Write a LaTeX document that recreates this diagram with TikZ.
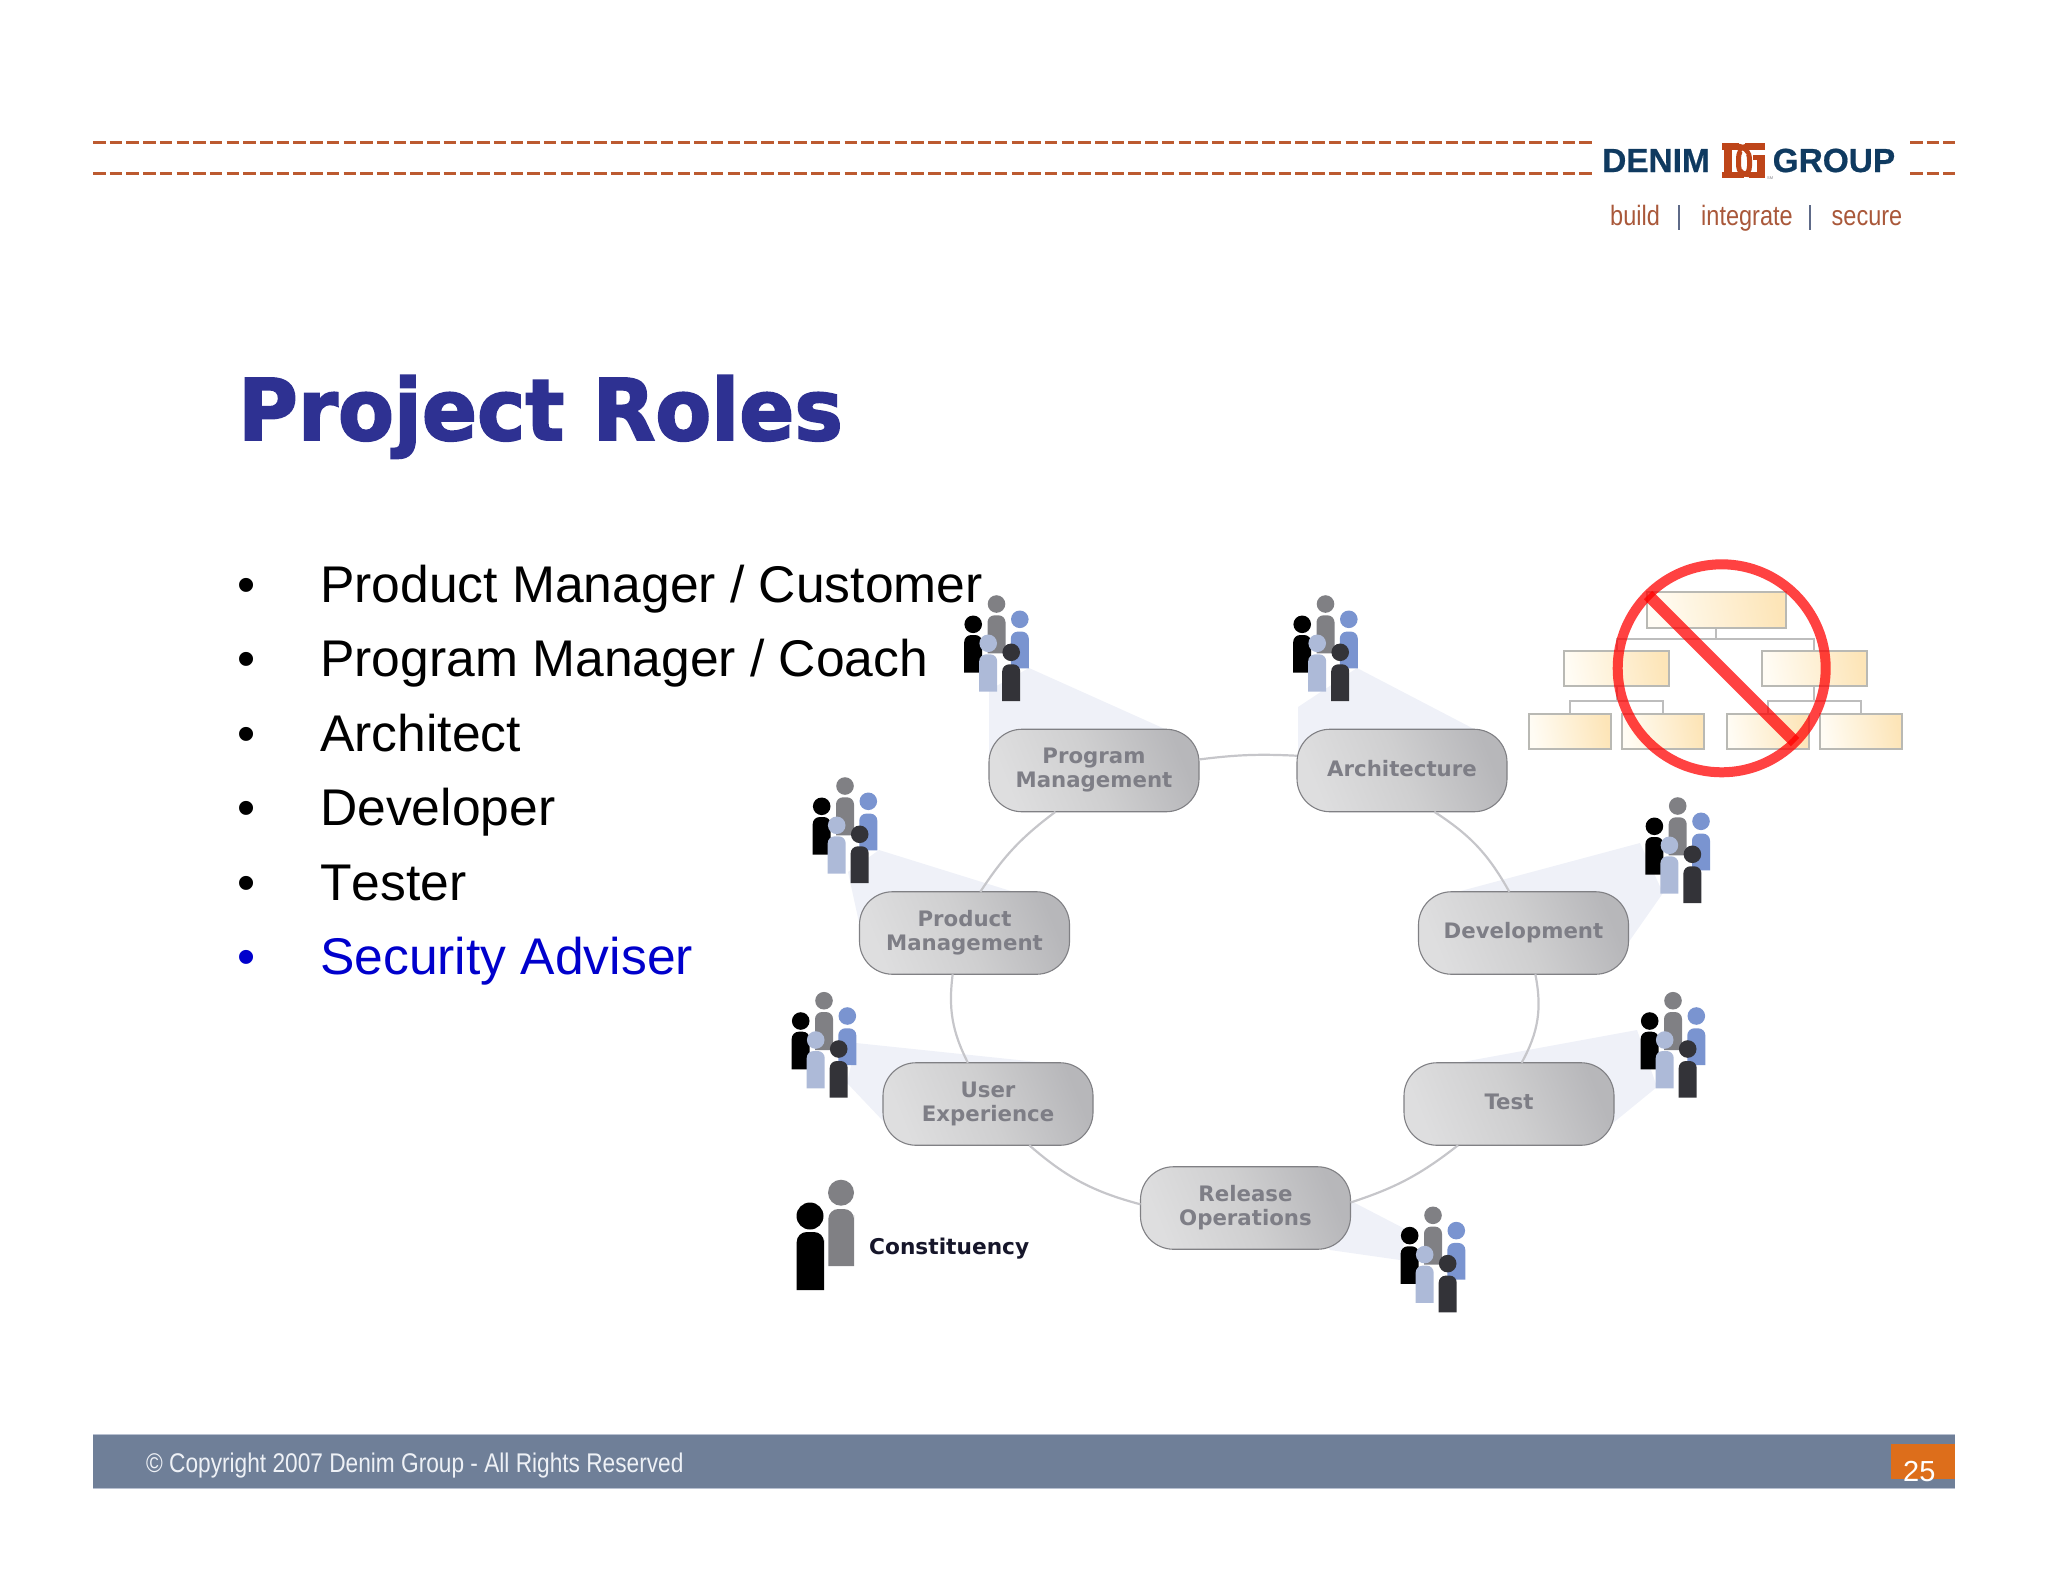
\documentclass[tikz,border=0pt]{standalone}
\usepackage{fontspec}
\usetikzlibrary{calc}
\setmainfont{Liberation Sans}
\newfontfamily\pillfont{DejaVu Sans}
\newfontfamily\bulletfont[Kerning=Off]{Liberation Sans}
\newfontfamily\titlefont[BoldFeatures={FakeBold=2.2,FakeStretch=0.958}]{DejaVu Sans}
\newfontfamily\narrowfont[FakeStretch=0.84]{Liberation Sans}
\newfontfamily\logofont[BoldFeatures={FakeBold=0.6}]{Liberation Sans}
\definecolor{navy}{HTML}{2E3192}
\definecolor{rust}{HTML}{BC5A30}
\definecolor{logoblue}{HTML}{0F3A60}
\definecolor{logored}{HTML}{BE4519}
\definecolor{tagcol}{HTML}{A9583A}
\definecolor{tagbar}{HTML}{5E6A88}
\definecolor{barcol}{HTML}{6F7F98}
\definecolor{baredge}{HTML}{B8C0D0}
\definecolor{orangecol}{HTML}{DD6E1B}
\definecolor{ringcol}{HTML}{C6C6CA}
\definecolor{pillline}{HTML}{808084}
\definecolor{pilltext}{HTML}{7E7E86}
\definecolor{pillA}{HTML}{DEDEDF}
\definecolor{pillB}{HTML}{CFCFD0}
\definecolor{pillC}{HTML}{B7B7BA}
\definecolor{coneA}{HTML}{EFF1F8}
\definecolor{orgedge}{HTML}{B9B9B4}
\definecolor{orgA}{HTML}{FFFCF4}
\definecolor{orgB}{HTML}{FDE5B8}
\definecolor{orgln}{HTML}{BDBDBD}
\definecolor{advblue}{HTML}{0000CC}
\definecolor{legendtx}{HTML}{16162A}
\definecolor{copytx}{HTML}{EEF1F6}
\definecolor{pA}{HTML}{808084}
\definecolor{pB}{HTML}{7A94D0}
\definecolor{pC}{HTML}{000000}
\definecolor{pD}{HTML}{ADBAD8}
\definecolor{pE}{HTML}{333338}
\newcommand{\personfig}[5]{%
  \fill[#5] (#1,#2) circle (8.8);
  \fill[#5,rounded corners=7] (#1-9,#4) -- (#1-9,#3) -- (#1+9,#3) -- (#1+9,#3+14) [sharp corners] -- (#1+9,#4) -- cycle;
}
\tikzset{
  crowd/.pic={
    \personfig{0}{0}{11.3}{49.3}{pA}
    \personfig{23.3}{15.3}{27.6}{64.3}{pB}
    \personfig{-23.3}{20.3}{31}{68.6}{pC}
    \personfig{-8.3}{39.3}{50.3}{87.6}{pD}
    \personfig{14.7}{48.3}{60.3}{97}{pE}
  },
  pill/.style={draw=pillline,line width=1.1pt,rounded corners=33pt,minimum width=210pt,minimum height=82.5pt,
    left color=pillA,right color=pillC,middle color=pillB,shading angle=112,inner sep=0pt,outer sep=0pt,
    align=center,text=pilltext,font=\pillfont\fontsize{21.3}{24}\selectfont\bfseries},
  ring/.style={draw=ringcol,line width=2.2pt},
  cone/.style={fill=coneA,draw=none},
  orgbox/.style={draw=orgedge,line width=1.2pt,left color=orgA,right color=orgB,shading angle=100,minimum height=35pt,inner sep=0pt,outer sep=0pt},
  orgline/.style={draw=orgln,line width=1.2pt},
  nobar/.style={draw=red,opacity=.74},
  headline/.style={draw=rust,line width=3.2pt,dash pattern=on 12.5pt off 4.2pt},
  bullettext/.style={anchor=base west,inner sep=0pt,font=\bulletfont\fontsize{51.6}{60}\selectfont},
  plain/.style={anchor=base west,inner sep=0pt},
  logomark/.style={draw=logored,line width=5pt},
  logocase/.style={draw=white,line width=1.4pt}
}
\begin{document}
\begin{tikzpicture}[x=1pt,y=-1pt]
\useasboundingbox (0,0) rectangle (2048,1582);
% header
\draw[headline] (93,142.7) -- (1592,142.7);
\draw[headline] (93,173.3) -- (1592,173.3);
\draw[headline] (1910,142.7) -- (1955,142.7);
\draw[headline] (1910,173.3) -- (1955,173.3);
\node[plain,text=logoblue,font=\logofont\fontsize{33.4}{36}\selectfont\bfseries] (denim) at (1602,172) {DENIM};
\node[plain,text=logoblue,font=\logofont\fontsize{33.4}{36}\selectfont\bfseries] (group) at (1772.5,172) {GROUP};
% logo mark
\fill[logored] (1722,143) rectangle (1739,149.5);
\fill[logored] (1745,143) rectangle (1765,149.5);
\fill[logored] (1724,143) rectangle (1731.5,172);
\fill[logored] (1722,171.5) rectangle (1744,178);
\fill[logored] (1749,171.5) rectangle (1765,178);
\fill[logored] (1757,155) rectangle (1765,178);
\fill[logored] (1752.5,155) rectangle (1765,160);
\draw[logomark] (1737,146.2) .. controls (1745,146.2) and (1749.5,152) .. (1749.5,160) -- (1749.5,166) .. controls (1749.5,171) and (1747,174.5) .. (1743,174.5);
\draw[logomark] (1748,146.2) .. controls (1741,146.2) and (1738.5,152) .. (1738.5,160) -- (1738.5,166) .. controls (1738.5,172) and (1744,174.8) .. (1750,174.8);
\draw[logocase] (1742,151) -- (1746,155);
\draw[logocase] (1746,170) -- (1742,168);
\node[plain,text=pilltext,font=\fontsize{4}{5}\selectfont] (sm) at (1767,179) {SM};
\node[plain,text=tagcol,font=\narrowfont\fontsize{28}{30}\selectfont] (tagA) at (1610,225) {build};
\node[plain,text=tagcol,font=\narrowfont\fontsize{28}{30}\selectfont] (tagB) at (1701,225) {integrate};
\node[plain,text=tagcol,font=\narrowfont\fontsize{28}{30}\selectfont] (tagC) at (1831.5,225) {secure};
\draw[draw=tagbar,line width=1.6pt] (1679,205) -- (1679,230);
\draw[draw=tagbar,line width=1.6pt] (1810,205) -- (1810,230);
% title
\node[plain,text=navy,font=\titlefont\fontsize{85}{90}\selectfont\bfseries] (title) at (238,440) {Project Roles};
% bullets
\foreach \yy/\tx/\cc/\nn in {602.2/{Product Manager / Customer}/black/a,676.5/{Program Manager / Coach}/black/b,751.1/{Architect}/black/c,825.5/{Developer}/black/d,900/{Tester}/black/e,974.5/{Security Adviser}/advblue/f}{
  \node[bullettext,text=\cc] (dot\nn) at (237,\yy) {•};
  \node[bullettext,text=\cc] (item\nn) at (320,\yy) {\tx};
}
% cones
\fill[cone] (989,690) -- (989,780) -- (1094,770) -- (1165,729) -- (1029,668) -- cycle;
\fill[cone] (1298,707) -- (1298,780) -- (1400,770) -- (1474,729) -- (1357,668) -- cycle;
\fill[cone] (848,872) -- (865,950) -- (964,930) -- (1014,892) -- (879,850) -- cycle;
\fill[cone] (1640,843) -- (1457,892) -- (1540,930) -- (1628,943) -- (1663,893) -- cycle;
\fill[cone] (1637,1030) -- (1457,1063) -- (1540,1100) -- (1613,1123) -- (1657,1087) -- cycle;
\fill[cone] (856,1043) -- (1047,1063) -- (980,1100) -- (884,1122) -- (847,1083) -- cycle;
\fill[cone] (1353,1202) -- (1407,1230) -- (1400,1260) -- (1330,1250) -- (1300,1210) -- cycle;
% pills
\node[pill] (prog) at (1094,770.5) {Program\\Management};
\node[pill] (arch) at (1402,770.5) {Architecture\vphantom{p}};
\node[pill] (prod) at (964.5,933) {Product\\Management};
\node[pill] (dev) at (1523.5,933) {Development};
\node[pill] (ux) at (988,1104) {User\\Experience};
\node[pill] (test) at (1509,1104) {Test\vphantom{p}};
\node[pill] (rel) at (1245.5,1208) {Release\\Operations};
% ring
\draw[ring] (prog.6) to[bend left=5] (arch.172);
\draw[ring] (arch.-52) to[bend left=14] (dev.109);
\draw[ring] (dev.-74) to[bend left=20] (test.73);
\draw[ring] (test.-141) to[bend left=10] (rel.3);
\draw[ring] (rel.178) to[bend left=13] (ux.-45);
\draw[ring] (ux.116) to[bend left=17] (prod.-106);
\draw[ring] (prod.69) to[bend left=10] (prog.-133);
% crowds
\pic at (996.5,604) {crowd};
\pic at (1325.5,604) {crowd};
\pic at (845,786) {crowd};
\pic at (1677.7,806) {crowd};
\pic at (824,1000.7) {crowd};
\pic at (1673,1000.7) {crowd};
\pic at (1433,1215.3) {crowd};
% legend
\fill[pA] (841,1192.7) circle (13);
\fill[pA,rounded corners=10] (828.3,1266) -- (828.3,1209) -- (854,1209) -- (854,1225) [sharp corners] -- (854,1266) -- cycle;
\fill[pC] (810,1216) circle (13.5);
\fill[pC,rounded corners=10] (796.7,1290) -- (796.7,1232) -- (824,1232) -- (824,1250) [sharp corners] -- (824,1290) -- cycle;
\node[plain,text=legendtx,font=\pillfont\fontsize{21.7}{24}\selectfont\bfseries] (legend) at (869,1254) {Constituency};
% org chart
\draw[orgline] (1716,628) -- (1716,639);
\draw[orgline] (1617,651) -- (1617,639) -- (1814,639) -- (1814,651);
\draw[orgline] (1617,686) -- (1617,701);
\draw[orgline] (1814,686) -- (1814,701);
\draw[orgline] (1570,714) -- (1570,701) -- (1663,701) -- (1663,714);
\draw[orgline] (1768,714) -- (1768,701) -- (1861,701) -- (1861,714);
\node[orgbox,minimum width=139pt,minimum height=36pt] (orgtop) at (1716.5,610) {};
\node[orgbox,minimum width=105pt] (orgl) at (1616.5,668.5) {};
\node[orgbox,minimum width=105pt] (orgr) at (1814.5,668.5) {};
\node[orgbox,minimum width=82pt] (orga) at (1570,731.5) {};
\node[orgbox,minimum width=82pt] (orgb) at (1663,731.5) {};
\node[orgbox,minimum width=82pt] (orgc) at (1768,731.5) {};
\node[orgbox,minimum width=82pt] (orgd) at (1861,731.5) {};
% no sign
\draw[nobar,line width=10pt] (1721.7,668.3) circle (104);
\draw[nobar,line width=12pt] (1648,595) -- (1795,742);
% footer
\fill[barcol] (93,1434) rectangle (1955,1489);
\draw[draw=baredge,line width=1pt] (93,1434.5) -- (1955,1434.5);
\draw[draw=baredge,line width=1pt] (93,1488.5) -- (1955,1488.5);
\fill[orangecol] (1891,1444) rectangle (1955,1479);
\node[plain,text=white,font=\fontsize{29}{32}\selectfont] (page) at (1903,1481) {25};
\node[plain,text=copytx,font=\narrowfont\fontsize{27}{30}\selectfont] (copy) at (146,1472) {© Copyright 2007 Denim Group - All Rights Reserved};
\end{tikzpicture}
\end{document}
